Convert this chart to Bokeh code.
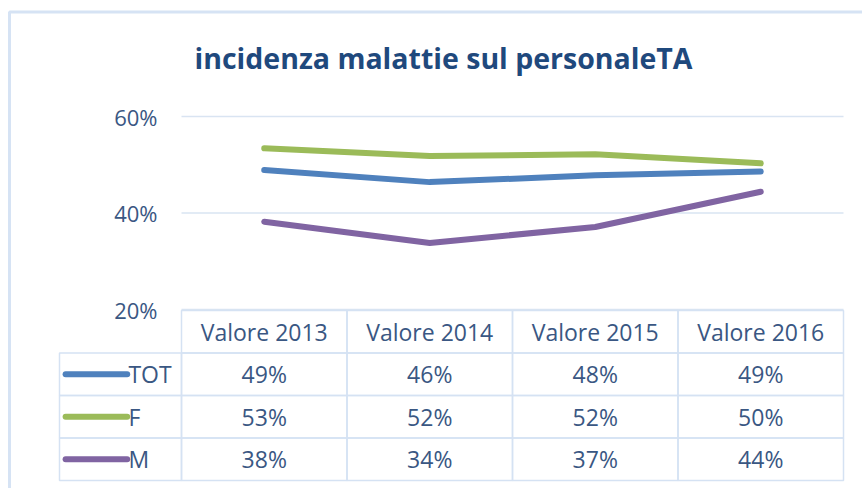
from bokeh.plotting import figure
from bokeh.models import (FactorRange, Range1d, CoordinateMapping, CategoricalScale,
                          LinearScale, ColumnDataSource)
from bokeh.core.properties import value
from bokeh.embed import file_html
from bokeh.resources import INLINE

# ---------------- data ----------------
title_text = "incidenza malattie sul personaleTA"
categories = ["Valore 2013", "Valore 2014", "Valore 2015", "Valore 2016"]
series_names = ["TOT", "F", "M"]
tot_values = [0.489, 0.464, 0.478, 0.486]
f_values = [0.534, 0.518, 0.522, 0.503]
m_values = [0.382, 0.338, 0.371, 0.444]
y_ticks = [0.2, 0.4, 0.6]
y_tick_labels = ["20%", "40%", "60%"]

# ---------------- style ----------------
COLORS = ["#4F81BD", "#9BBB59", "#8064A2"]
TITLE_C = "#1F497D"
TXT = "#3A5783"
GRID = "#D9E4F2"
TAB = "#D5E2F3"
BORDER = "#D6E3F4"
FONT = "Open Sans"

W, H = 862, 488
# layout boxes in canvas pixels (parent coordinate system)
PLOT_L, PLOT_R, PLOT_T, PLOT_B = 181, 843, 116, 309
TAB_T, TAB_B = 310, 480
LEG_L = 59

p = figure(width=W, height=H, x_range=Range1d(0, W), y_range=Range1d(H, 0),
           x_axis_location=None, y_axis_location=None,
           output_backend="svg", toolbar_location=None,
           min_border=0, min_border_left=0, min_border_right=0,
           min_border_top=0, min_border_bottom=0)
p.grid.visible = False
p.outline_line_color = None
p.background_fill_color = "white"
p.border_fill_color = "white"

# outer chart border
p.quad(left=9, right=W + 20, top=11.5, bottom=H + 20, fill_alpha=0,
       line_color=BORDER, line_width=3)

# title
p.text(x=[443], y=[57], text=[title_text], text_align="center", text_baseline="middle",
       text_font=value(FONT), text_font_style="bold", text_font_size="28.5px",
       text_color=TITLE_C)

# ---------- chart coordinate system ----------
cat_range = FactorRange(factors=categories, range_padding=0)
chart_map = CoordinateMapping(x_source=cat_range, x_scale=CategoricalScale(),
                              x_target=Range1d(PLOT_L, PLOT_R),
                              y_source=Range1d(0.2, 0.6), y_scale=LinearScale(),
                              y_target=Range1d(PLOT_B, PLOT_T))

ncat = len(categories)
r = p.segment(x0=[0] * len(y_ticks), x1=[ncat] * len(y_ticks), y0=y_ticks, y1=y_ticks,
              line_color=GRID, line_width=1.5)
r.coordinates = chart_map

r = p.text(x=[0] * len(y_ticks), y=y_ticks, text=y_tick_labels, x_offset=-24,
           text_align="right", text_baseline="middle",
           text_font=value(FONT), text_font_size="22px", text_color=TXT)
r.coordinates = chart_map

all_series = [tot_values, f_values, m_values]
for name, vals, c in zip(series_names, all_series, COLORS):
    r = p.line(x=categories, y=vals, line_color=c, line_width=6,
               line_cap="round", line_join="round")
    r.coordinates = chart_map

# ---------- data table coordinate system ----------
HDR = " "
row_range = FactorRange(factors=[HDR] + series_names, range_padding=0)
tab_map = CoordinateMapping(x_source=FactorRange(factors=categories, range_padding=0),
                            x_scale=CategoricalScale(),
                            x_target=Range1d(PLOT_L, PLOT_R),
                            y_source=row_range, y_scale=CategoricalScale(),
                            y_target=Range1d(TAB_T, TAB_B))

cell_x, cell_y, cell_t = [], [], []
for cat in categories:
    cell_x.append(cat); cell_y.append(HDR); cell_t.append(cat)
for name, vals in zip(series_names, all_series):
    for cat, v in zip(categories, vals):
        cell_x.append(cat); cell_y.append(name); cell_t.append(f"{round(v * 100)}%")
cells = ColumnDataSource(dict(x=cell_x, y=cell_y, text=cell_t))

r = p.rect(x="x", y="y", width=1, height=1, source=cells, fill_alpha=0,
           line_color=TAB, line_width=1.5)
r.coordinates = tab_map
r = p.text(x="x", y="y", text="text", source=cells, text_align="center",
           text_baseline="middle", text_font=value(FONT), text_font_size="23px",
           text_color=TXT)
r.coordinates = tab_map

# legend column (x measured as a fraction of the column width)
leg_map = CoordinateMapping(x_source=Range1d(0, 1), x_scale=LinearScale(),
                            x_target=Range1d(LEG_L, PLOT_L),
                            y_source=FactorRange(factors=[HDR] + series_names, range_padding=0),
                            y_scale=CategoricalScale(),
                            y_target=Range1d(TAB_T, TAB_B))
leg = ColumnDataSource(dict(y=series_names, color=COLORS, text=series_names))
r = p.rect(x=0.5, y="y", width=1, height=1, source=leg, fill_alpha=0,
           line_color=TAB, line_width=1.5)
r.coordinates = leg_map
r = p.segment(x0=0.05, x1=0.555, y0="y", y1="y", source=leg, line_color="color",
              line_width=6, line_cap="round")
r.coordinates = leg_map
r = p.text(x=0.565, y="y", text="text", source=leg, text_align="left",
           text_baseline="middle", text_font=value(FONT), text_font_size="23px",
           text_color=TXT)
r.coordinates = leg_map

open("out.html", "w").write(file_html(p, INLINE))
